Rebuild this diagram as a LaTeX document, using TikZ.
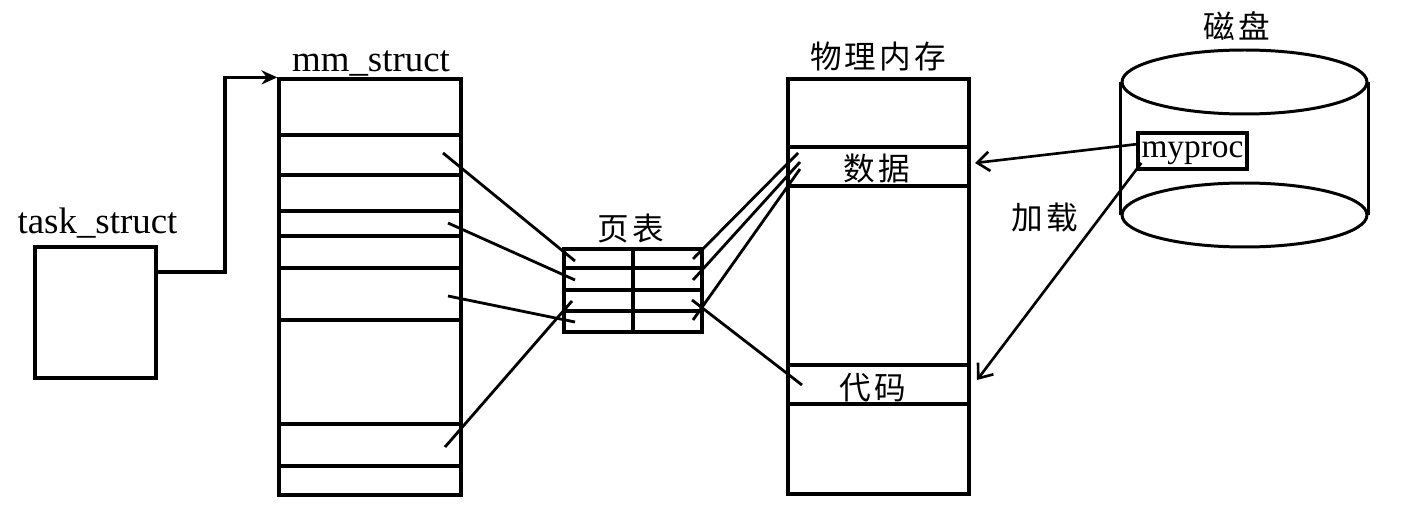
\documentclass[tikz,border=0pt]{standalone}
\usepackage{fontspec}
\setmainfont{Liberation Serif}
\newfontfamily\cjk[LetterSpace=10]{Noto Sans CJK SC}
\usetikzlibrary{arrows.meta, positioning, calc, shapes.geometric}

\begin{document}
\begin{tikzpicture}[
  x=0.02cm, y=-0.02cm,
  box/.style={rectangle, draw, line width=1.9pt, inner sep=0pt},
  row/.style={line width=1.9pt},
  title/.style={font=\fontsize{21}{25}\selectfont, anchor=base, inner sep=0pt},
  zh/.style={font=\cjk\fontsize{18}{22}\selectfont, inner sep=0pt},
  link/.style={line width=1.6pt},
  load/.style={line width=1.5pt, -{Straight Barb[length=7pt, width=11pt]}},
  disc/.style={ellipse, draw, line width=1.7pt, minimum width=4.9cm, minimum height=1.28cm}]
  \useasboundingbox (0,0) rectangle (1410,520);

  % task_struct and mm_struct
  \node[box, minimum width=2.42cm, minimum height=2.62cm] (task) at (95.5,312.5) {};
  \node[title] (tasklbl) at (97.5,234) {task\_struct};
  \node[box, minimum width=3.64cm, minimum height=8.32cm] (mm) at (370,287) {};
  \node[title] (mmlbl) at (371,72) {mm\_struct};
  \foreach \y in {135,175,211,236,268,320,424,466}
    \draw[row] (mm.west |- 0,\y) -- (mm.east |- 0,\y);
  \coordinate (tout) at (156,272);
  \draw[row, -{Stealth[length=9pt, width=8pt]}] (tout) -- ++(69,0) |- (mm.north west);

  % page table
  \node[box, minimum width=2.76cm, minimum height=1.66cm] (pt) at (633,290.5) {};
  \node[zh] (ptlbl) at (631,229) {页表};
  \draw[row] (pt.north) -- (pt.south);
  \foreach \y in {268,290,311}
    \draw[row] (pt.west |- 0,\y) -- (pt.east |- 0,\y);

  % physical memory
  \node[box, minimum width=3.62cm, minimum height=8.3cm] (phys) at (878.5,286.5) {};
  \node[zh] (physlbl) at (878,57) {物理内存};
  \foreach \y in {147,186,365,404}
    \draw[row] (phys.west |- 0,\y) -- (phys.east |- 0,\y);
  \node[zh] (data) at (877,169) {数据};
  \node[zh] (code) at (873,388) {代码};

  % mm_struct -> page table
  \coordinate (m1) at (443,153);
  \coordinate (m2) at (448,223);
  \coordinate (m3) at (448,296);
  \coordinate (m4) at (445,447);
  \coordinate (l1) at (575,261);
  \coordinate (l2) at (575,280);
  \coordinate (l3) at (575,322);
  \coordinate (l4) at (572,301);
  \draw[link] (m1) -- (l1);
  \draw[link] (m2) -- (l2);
  \draw[link] (m3) -- (l3);
  \draw[link] (m4) -- (l4);

  % page table -> physical memory
  \coordinate (r1) at (693,259);
  \coordinate (r2) at (693,280);
  \coordinate (r3) at (693,320);
  \coordinate (r4) at (692,300);
  \coordinate (f1) at (798,153);
  \coordinate (f2) at (800,162);
  \coordinate (f3) at (800,169);
  \coordinate (f4) at (802,385);
  \draw[link] (r1) -- (f1);
  \draw[link] (r2) -- (f2);
  \draw[link] (r3) -- (f3);
  \draw[link] (r4) -- (f4);

  % disk
  \node[disc] (disktop) at (1244.5,82) {};
  \node[disc] (diskbot) at (1244.5,215) {};
  \draw[line width=1.7pt] (disktop.west) -- (diskbot.west);
  \draw[line width=1.7pt] (disktop.east) -- (diskbot.east);
  \node[zh] (disklbl) at (1237,26) {磁盘};
  \node[box, fill=white, minimum width=2.18cm, minimum height=0.72cm,
        text height=9pt, text depth=2pt,
        font=\fontsize{19}{22}\selectfont] (myproc) at (1192.5,151) {myproc};

  % loading
  \coordinate (d1) at (975,163);
  \coordinate (d2) at (977,380);
  \draw[load] ([shift={(2,-7)}]myproc.west) -- (d1);
  \draw[load] ([shift={(5,12)}]myproc.west) -- (d2);
  \node[zh] (loadlbl) at (1045,217) {加载};
\end{tikzpicture}
\end{document}
